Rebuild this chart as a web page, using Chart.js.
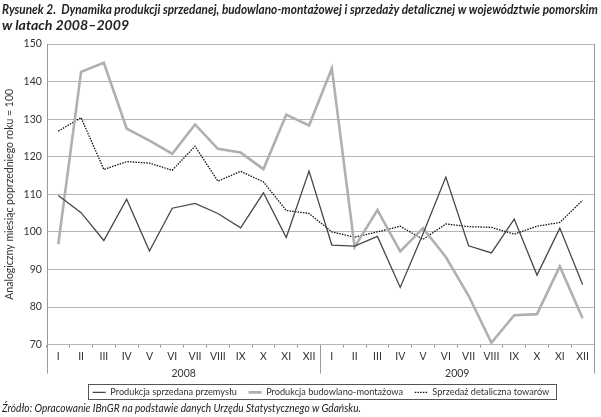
<!DOCTYPE html>
<html>
<head>
<meta charset="utf-8">
<script src="https://cdn.jsdelivr.net/npm/chart.js@4"></script>
<style>
  html, body { margin: 0; padding: 0; background: #fff; }
  #wrap { position: relative; width: 601px; height: 417px; overflow: hidden; }
  .txt { position: absolute; left: 2px; white-space: nowrap; transform-origin: 0 0; color: #222; }
  #t1 { top: 1px; font: italic bold 13px Lato, sans-serif; }
  #t2 { top: 17px; font: italic bold 13px Lato, sans-serif; }
  #source { top: 401px; font: italic 11px Lato, sans-serif; }
  canvas { position: absolute; left: 0; top: 0; }
</style>
</head>
<body>
<div id="wrap">
  <canvas id="chart" width="601" height="417"></canvas>
  <span class="txt" id="t1" data-w="596">Rysunek 2.&nbsp; Dynamika produkcji sprzedanej, budowlano-montażowej i sprzedaży detalicznej w województwie pomorskim</span>
  <span class="txt" id="t2" data-w="127">w latach 2008–2009</span>
  <span class="txt" id="source" data-w="359">Źródło: Opracowanie IBnGR na podstawie danych Urzędu Statystycznego w Gdańsku.</span>
</div>
<script>
const months = ['I', 'II', 'III', 'IV', 'V', 'VI', 'VII', 'VIII', 'IX', 'X', 'XI', 'XII',
                'I', 'II', 'III', 'IV', 'V', 'VI', 'VII', 'VIII', 'IX', 'X', 'XI', 'XII'];
const years = ['2008', '2009'];

const przemyslowa = [109.7, 105.1, 97.7, 108.7, 94.9, 106.3, 107.6, 104.9, 101.1, 110.4, 98.5, 116.2,
                     96.5, 96.2, 98.8, 85.2, 99.5, 114.6, 96.3, 94.4, 103.4, 88.5, 101.0, 86.0];
const budowlana = [96.7, 142.6, 145.0, 127.5, 124.3, 120.8, 128.6, 122.1, 121.1, 116.7, 131.2, 128.3,
                   143.5, 96.0, 105.8, 94.8, 101.0, 93.3, 83.0, 70.5, 77.8, 78.1, 90.8, 77.0];
const detaliczna = [126.8, 130.4, 116.6, 118.7, 118.3, 116.4, 122.8, 113.5, 116.1, 113.3, 105.7, 104.9,
                    100.0, 98.6, 100.0, 101.5, 98.0, 102.1, 101.4, 101.2, 99.4, 101.5, 102.5, 108.4];

const yMin = 70, yMax = 150, yStep = 10;

// squeeze the text lines to the widths of the original
document.querySelectorAll('.txt').forEach(el => {
  const s = Number(el.dataset.w) / el.offsetWidth;
  el.style.transform = 'scaleX(' + s + ')';
});

// year separators and legend frame
const framePlugin = {
  id: 'frame',
  afterLayout(chart) {
    // legend sits a bit right of centre in the original
    chart.legend.left += 24;
    chart.legend.right += 24;
  },
  afterDraw(chart) {
    const ctx = chart.ctx;
    const area = chart.chartArea;
    const x = chart.scales.x;
    const bottom = area.bottom + 29;
    const mid = (x.getPixelForValue(11) + x.getPixelForValue(12)) / 2;
    ctx.save();
    ctx.strokeStyle = '#9a9a9a';
    ctx.lineWidth = 1;
    ctx.beginPath();
    ctx.moveTo(Math.round(area.left) + 0.5, area.top);
    ctx.lineTo(Math.round(area.left) + 0.5, bottom);
    ctx.moveTo(Math.round(area.right) + 0.5, area.top);
    ctx.lineTo(Math.round(area.right) + 0.5, bottom);
    ctx.moveTo(Math.round(mid) + 0.5, area.bottom);
    ctx.lineTo(Math.round(mid) + 0.5, bottom);
    ctx.stroke();
    const hb = chart.legend.legendHitBoxes[0];
    const cy = hb.top + hb.height / 2;
    const t = Math.round(cy - 8) + 0.5;
    ctx.strokeStyle = '#555';
    ctx.strokeRect(88.5, t, 468, 15);
    ctx.restore();
  }
};

new Chart(document.getElementById('chart').getContext('2d'), {
  type: 'line',
  data: {
    labels: months,
    datasets: [
      {
        label: 'Produkcja sprzedana przemysłu',
        data: przemyslowa,
        borderColor: '#474747',
        borderWidth: 1.3,
        pointRadius: 0,
        tension: 0
      },
      {
        label: 'Produkcja budowlano-montażowa',
        data: budowlana,
        borderColor: '#b0b0b0',
        borderWidth: 2.6,
        pointRadius: 0,
        tension: 0
      },
      {
        label: 'Sprzedaż detaliczna towarów',
        data: detaliczna,
        borderColor: '#111',
        borderWidth: 1.3,
        borderDash: [1.5, 1.2],
        pointRadius: 0,
        tension: 0
      }
    ]
  },
  options: {
    responsive: false,
    animation: false,
    layout: { padding: { top: 44, left: 0, right: 7, bottom: 10 } },
    plugins: {
      legend: {
        position: 'bottom',
        labels: {
          usePointStyle: true,
          pointStyle: 'line',
          pointStyleWidth: 13,
          boxHeight: 6,
          padding: 7,
          color: '#333',
          font: { family: 'Lato', size: 9.2 },
          generateLabels(chart) {
            const items = Chart.defaults.plugins.legend.labels.generateLabels(chart);
            items.forEach((it, i) => {
              const ds = chart.data.datasets[i];
              it.strokeStyle = ds.borderColor;
              it.lineWidth = ds.borderWidth;
              it.lineDash = ds.borderDash || [];
              if (i < items.length - 1) it.text += '  ';
            });
            return items;
          }
        }
      },
      tooltip: { enabled: false }
    },
    scales: {
      x: {
        offset: true,
        grid: { offset: true, drawOnChartArea: false, tickLength: 3, color: '#9a9a9a' },
        border: { display: false },
        ticks: { color: '#333', padding: 3, maxRotation: 0, autoSkip: false, font: { family: 'Lato', size: 10.5 } }
      },
      x2: {
        type: 'category',
        labels: years,
        position: 'bottom',
        offset: true,
        grid: { display: false, drawTicks: false },
        border: { display: false },
        ticks: { color: '#333', padding: 1, font: { family: 'Lato', size: 10.5 } }
      },
      y: {
        min: yMin,
        max: yMax,
        ticks: { stepSize: yStep, color: '#333', padding: 5, font: { family: 'Lato', size: 10.5 } },
        grid: { color: '#b5b5b5', drawTicks: false },
        border: { display: false },
        title: {
          display: true,
          text: 'Analogiczny miesiąc poprzedniego roku = 100',
          color: '#333',
          padding: 3,
          font: { family: 'Lato', size: 10.5 }
        }
      }
    }
  },
  plugins: [framePlugin]
});
</script>
</body>
</html>
